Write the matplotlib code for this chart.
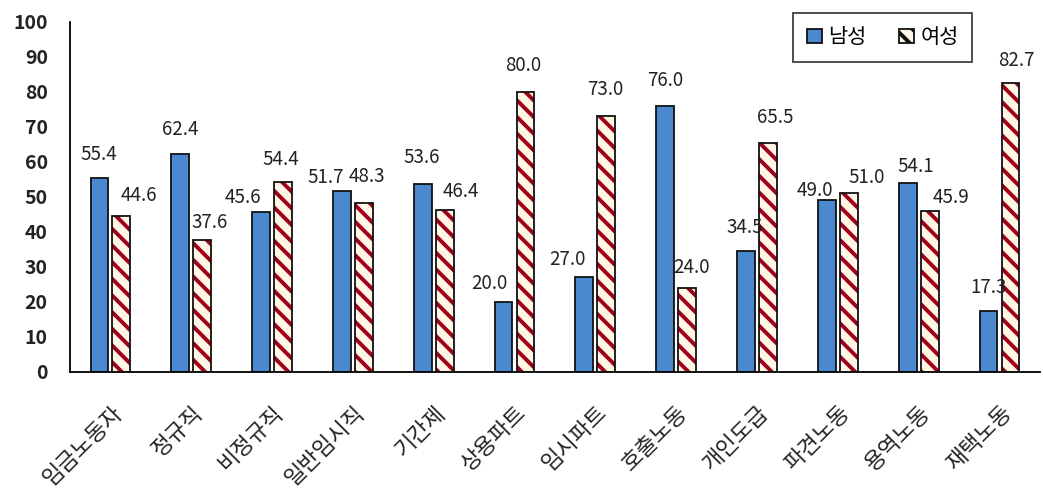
import numpy as np
import matplotlib
matplotlib.use('Agg')
import matplotlib.pyplot as plt
from matplotlib.patches import Patch

plt.rcParams['font.family'] = ['Noto Sans CJK KR', 'DejaVu Sans']
plt.rcParams['hatch.linewidth'] = 2.8

# data
categories = ['임금노동자', '정규직', '비정규직', '일반임시직', '기간제', '상용파트',
              '임시파트', '호출노동', '개인도급', '파견노동', '용역노동', '재택노동']
male = [55.4, 62.4, 45.6, 51.7, 53.6, 20.0, 27.0, 76.0, 34.5, 49.0, 54.1, 17.3]
female = [44.6, 37.6, 54.4, 48.3, 46.4, 80.0, 73.0, 24.0, 65.5, 51.0, 45.9, 82.7]

# label nudges in pixels (dx, dy above bar top)
male_nudge = [(-1, 24), (0, 24), (-18, 15), (-16, 14), (-1, 27), (-14, 18),
              (-17, 18), (0, 25), (-1, 24), (-12, 10), (8, 16), (0, 24)]
female_nudge = [(17, 20), (7, 18), (-2, 22), (3, 26), (16, 18), (-2, 26),
                (-1, 27), (4, 20), (7, 25), (18, 16), (21, 14), (6, 22)]

blue = '#4A89D0'
red = '#A0001C'
cream = '#FFF6E6'
dark = '#222222'

fig = plt.figure(figsize=(10.43, 4.95), dpi=100)
ax = fig.add_axes([0.0671, 0.2485, 0.9299, 0.7071])

x = np.arange(len(categories))
w = 0.22
off = 0.136

ax.bar(x - off, male, w, color=blue, edgecolor='#111111', linewidth=1.3, zorder=2)
ax.bar(x + off, female, w, color=cream, edgecolor=red, hatch='\\\\', linewidth=0, zorder=2)
ax.bar(x + off, female, w, color='none', edgecolor='#111111', linewidth=1.3, zorder=3)

for i in range(len(categories)):
    dx, dy = male_nudge[i]
    ax.annotate(f'{male[i]:.1f}', (x[i] - off, male[i]), xytext=(dx, dy),
                textcoords='offset pixels', ha='center', va='center', fontsize=13.5, color=dark)
    dx, dy = female_nudge[i]
    ax.annotate(f'{female[i]:.1f}', (x[i] + off, female[i]), xytext=(dx, dy),
                textcoords='offset pixels', ha='center', va='center', fontsize=13.5, color=dark)

ax.set_xlim(-0.5, len(categories) - 0.5)
ax.set_ylim(0, 100)
ax.set_yticks(range(0, 101, 10))
ax.tick_params(axis='y', length=0, labelsize=14, pad=16, labelcolor=dark)
ax.tick_params(axis='x', length=0, labelsize=16, pad=21, labelcolor=dark)
ax.set_xticks(x)
ax.set_xticklabels(categories, rotation=45, ha='right', rotation_mode='anchor')
for lbl in ax.get_yticklabels():
    lbl.set_fontweight('bold')

ax.spines['top'].set_visible(False)
ax.spines['right'].set_visible(False)
ax.spines['left'].set_linewidth(1.3)
ax.spines['bottom'].set_linewidth(1.3)

h1 = Patch(facecolor=blue, edgecolor='#111111', linewidth=1.3, label='남성')
h2 = Patch(facecolor=cream, edgecolor=red, hatch='\\\\', linewidth=1.3, label='여성')
leg = ax.legend(handles=[h1, h2], loc='upper right', bbox_to_anchor=(0.930, 1.026),
                ncol=2, fontsize=15, frameon=True, fancybox=False, handlelength=0.7,
                handleheight=0.7, handletextpad=0.3, columnspacing=1.6, borderpad=0.65,
                borderaxespad=0)
leg.get_frame().set_edgecolor('#111111')
leg.get_frame().set_linewidth(1.3)
for p in leg.get_patches():
    p.set_edgecolor('#111111')

fig.savefig('out.png', dpi=100)
